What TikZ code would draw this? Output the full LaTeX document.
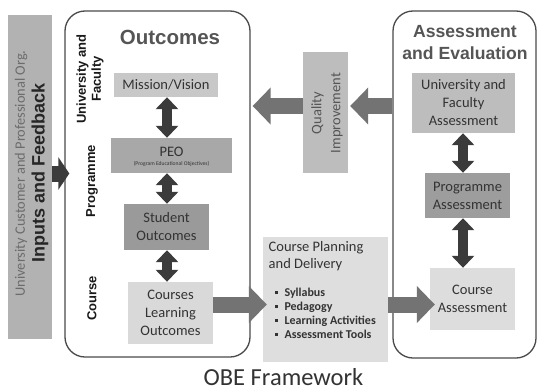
\documentclass[tikz,border=0pt]{standalone}
\usepackage{fontspec}
\setmainfont{Carlito}
\newfontfamily\lsans{Liberation Sans}
\usetikzlibrary{arrows.meta,calc}
\definecolor{barfill}{HTML}{B2B2B2}
\definecolor{mvfill}{HTML}{C8C8C8}
\definecolor{peofill}{HTML}{A8A8A8}
\definecolor{sofill}{HTML}{9A9A9A}
\definecolor{clofill}{HTML}{D9D9D9}
\definecolor{cpfill}{HTML}{DEDEDE}
\definecolor{ufafill}{HTML}{BDBDBD}
\definecolor{pafill}{HTML}{9D9D9D}
\definecolor{cafill}{HTML}{DDDDDD}
\definecolor{qifill}{HTML}{BDBDBD}
\definecolor{fatgray}{HTML}{737373}
\definecolor{darkarr}{HTML}{3B3B3B}
\definecolor{framec}{HTML}{4A4A4A}
\definecolor{titlegray}{HTML}{555555}
\definecolor{txtc}{HTML}{333333}
\definecolor{lighttxt}{HTML}{6C6C6C}
\tikzset{
  box/.style={fill=#1, draw=none, inner sep=0pt, align=center, text=txtc,
    font=\fontsize{14.5}{18}\selectfont},
  frame/.style={draw=framec, line width=1.3pt, rounded corners=20pt, inner sep=0pt},
  ttl/.style={font=\lsans\bfseries\fontsize{#1}{22}\selectfont, text=titlegray, align=center, inner sep=0pt},
  sidelbl/.style={rotate=90, font=\lsans\bfseries\fontsize{13}{15}\selectfont, text=black!90, align=center, inner sep=0pt},
  dbl/.style={draw=darkarr, line width=10pt,
    {Triangle[width=22pt,length=12pt]}-{Triangle[width=22pt,length=12pt]}},
  fat/.style={draw=fatgray, line width=16pt, -{Triangle[width=36pt,length=18pt]}},
  inarr/.style={draw=darkarr, line width=16pt, -{Triangle[width=32pt,length=11pt]}},
}
\begin{document}
\begin{tikzpicture}[x=1pt,y=-1pt]
\useasboundingbox (0,0) rectangle (538,391);
\fill[white] (0,0) rectangle (538,391);

% input bar
\node[fill=barfill, inner sep=0pt, minimum width=44pt, minimum height=324pt] (inbar) at (30,177) {};
\node[rotate=90, inner sep=0pt, text=lighttxt, font=\fontsize{14.4}{17}\selectfont] (intext1) at (21,173.5) {University Customer and Professional Org.};
\node[rotate=90, inner sep=0pt, text=black!85, font=\lsans\bfseries\fontsize{18}{20}\selectfont] (intext2) at (40,172.5) {Inputs and Feedback};

% frames
\node[frame, minimum width=185pt, minimum height=346pt] (outbox) at (157.5,184) {};
\node[frame, minimum width=143pt, minimum height=347pt] (aebox) at (464.5,184.5) {};

\node[ttl=20.5] (outtitle) at (170,37.5) {Outcomes};
\node[ttl=17.6] (aetitle) at (465,43) {Assessment\\and Evaluation};

% side labels
\node[sidelbl] (lufa) at (90,79) {University and\\Faculty};
\node[sidelbl] (lprog) at (92,181) {Programme};
\node[sidelbl] (lcourse) at (92,298.5) {Course};

% outcome boxes
\node[box=mvfill, minimum width=104pt, minimum height=24pt] (mv) at (166,85) {Mission/Vision};
\node[box=peofill, minimum width=121pt, minimum height=35pt] (peo) at (171.5,155.5) {};
\node[inner sep=0pt, text=txtc, font=\fontsize{14.5}{18}\selectfont] (peot) at (171.5,151.5) {PEO};
\node[inner sep=0pt, text=txtc, font=\fontsize{5.6}{7}\selectfont] (peos) at (171.5,163.5) {(Program Educational Objectives)};
\node[box=sofill, minimum width=85pt, minimum height=46pt] (so) at (166.5,227) {Student\\Outcomes};
\node[box=clofill, minimum width=85pt, minimum height=62pt] (clo) at (170.5,313) {Courses\\Learning\\Outcomes};

% course planning
\node[box=cpfill, minimum width=125pt, minimum height=125pt] (cp) at (325.5,299.5) {};
\node[anchor=north west, inner sep=0pt, align=left, text=txtc, font=\fontsize{14.5}{17}\selectfont] (cpt) at (268.5,241) {Course Planning\\and Delivery};
\node[anchor=north west, inner sep=0pt, align=left, text=txtc, font=\bfseries\fontsize{12}{14}\selectfont] (cpl) at (274.5,287.5) {%
\rule[2pt]{2.8pt}{2.8pt}\hspace{7pt}Syllabus\\
\rule[2pt]{2.8pt}{2.8pt}\hspace{7pt}Pedagogy\\
\rule[2pt]{2.8pt}{2.8pt}\hspace{7pt}Learning Activities\\
\rule[2pt]{2.8pt}{2.8pt}\hspace{7pt}Assessment Tools};

% assessment boxes
\node[box=ufafill, minimum width=103pt, minimum height=60pt] (ufa) at (463.5,103) {University and\\Faculty\\Assessment};
\node[box=pafill, minimum width=85pt, minimum height=45pt] (pa) at (467.5,195.5) {Programme\\Assessment};
\node[box=cafill, minimum width=85pt, minimum height=62pt] (ca) at (472.5,299) {Course\\Assessment};

% quality improvement
\node[box=qifill, minimum width=45pt, minimum height=121pt] (qi) at (325.5,112.5) {};
\node[rotate=90, inner sep=0pt, align=center, text=titlegray, font=\fontsize{14.5}{19}\selectfont] (qit) at (327,113) {Quality\\Improvement};

% helper coordinates
\coordinate (ax) at (167,0);
\coordinate (bx) at (463,0);
\coordinate (qy) at (0,106);
\coordinate (cy) at (0,304.5);
\coordinate (iy) at (0,173.5);

% double arrows
\draw[dbl] (mv.south -| ax) -- (peo.north -| ax);
\draw[dbl] (peo.south -| ax) -- (so.north -| ax);
\draw[dbl] (so.south -| ax) -- (clo.north -| ax);
\draw[dbl] (ufa.south -| bx) -- (pa.north -| bx);
\draw[dbl] (pa.south -| bx) -- (ca.north -| bx);

% fat arrows
\draw[fat] (aebox.west |- qy) -- ([xshift=2pt]qi.east |- qy);
\draw[fat] (qi.west |- qy) -- ([xshift=2pt]outbox.east |- qy);
\draw[fat] (clo.east |- cy) -- ([xshift=4pt]cp.west |- cy);
\draw[fat] (cp.east |- cy) -- ([xshift=5pt]ca.west |- cy);
\draw[inarr] (inbar.east |- iy) -- ([xshift=5pt]outbox.west |- iy);

\node[inner sep=0pt, text=black!80, font=\fontsize{24.5}{26}\selectfont] (obe) at (283.5,377) {OBE Framework};
\end{tikzpicture}
\end{document}
